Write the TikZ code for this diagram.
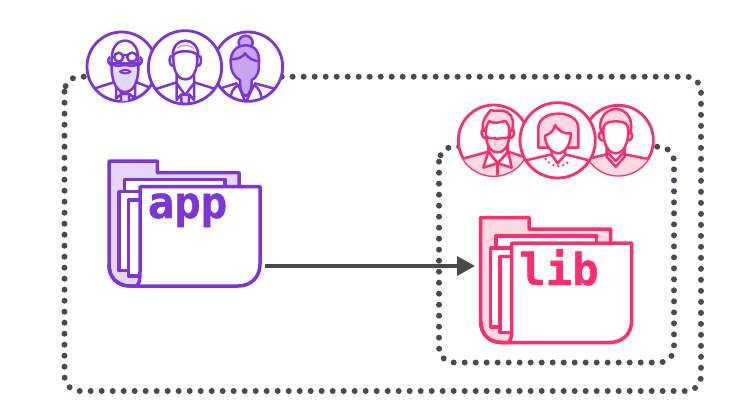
\documentclass[tikz,border=0pt]{standalone}
\usepackage{fontspec}
\newfontfamily\monob[FakeBold=1]{DejaVu Sans Mono Bold}
\usetikzlibrary{arrows.meta}
\definecolor{pur}{HTML}{7B35DB}
\definecolor{purl}{HTML}{E6D6F9}
\definecolor{purm}{HTML}{C7A6F0}
\definecolor{pnk}{HTML}{FF2D6E}
\definecolor{pnkl}{HTML}{FFD9E4}
\definecolor{dotc}{HTML}{4A4A55}
\definecolor{arr}{HTML}{4A4A4A}
\tikzset{
  dotbox/.style={draw=dotc,line width=6pt,line cap=round,dash pattern=on 0pt off 11pt,rounded corners=15pt},
  fline/.style={line width=3.5pt,line join=round},
  pline/.style={line width=2.5pt,line join=round,line cap=round},
  ring/.style={draw,fill=white,line width=2.8pt},
  lab/.style={font=\monob\fontsize{44}{44}\selectfont,anchor=base,inner sep=0pt},
  conn/.style={draw=arr,line width=3.6pt,-{Triangle[length=18pt,width=19pt]}},
}
\newcommand{\folderdraw}[2]{%
  \filldraw[fline,draw=#1,fill=#2] (109,161) -- (157.3,161) -- (157.3,172.7) -- (239,172.7) -- (239,200) -- (137,286) -- (130,286) .. controls (117,286) and (109,277) .. (109,265) -- cycle;
  \filldraw[fline,draw=#1,fill=white] (124.3,192) -- (124.3,179.3) -- (225,179.3) -- (225,192) -- cycle;
  \filldraw[fline,draw=#1,fill=white] (119,191.7) -- (142,191.7) -- (142,270.7) -- (119,270.7) -- cycle;
  \filldraw[fline,draw=#1,fill=white] (128.3,200) -- (142,200) -- (142,276) -- (128.3,276) -- cycle;
  \filldraw[fline,draw=#1,fill=white] (140,186.7) -- (260,186.7) -- (260,264) .. controls (260,277) and (251,286) .. (238,286) -- (136.7,286) .. controls (140,282) and (140,279) .. (140,272) -- cycle;
  \draw[fline,draw=#1] (109,265) .. controls (109,277) and (117,286) .. (130,286) -- (137,286);
}
\begin{document}
\begin{tikzpicture}[x=1pt,y=-1pt]
\useasboundingbox (0,0) rectangle (752,417);
\fill[white] (0,0) rectangle (752,417);
\draw[dotbox] (64.5,76.7) rectangle (701,391);
\draw[dotbox] (439,146.7) rectangle (674,362.5);

% purple people
\begin{scope}[shift={(80,20)},scale=1/3,pline,draw=pur]
 \begin{scope}
  \filldraw[ring,draw=pur] (125,140) circle (104);
  \clip (125,140) circle (104);
  \draw (45,205) -- (108,185) (165,185) -- (215,205);
  \filldraw[fill=white] (108,185) -- (125,222) -- (165,185);
  \filldraw[fill=purl] (122,222) -- (148,222) -- (146,250) -- (124,250) -- cycle;
  \draw (108,185) -- (108,235) -- (125,222) (165,185) -- (165,235) -- (148,222);
  \filldraw[fill=white] (95,130) .. controls (92,85) and (110,62) .. (135,62) .. controls (160,62) and (178,85) .. (175,130) -- cycle;
  \filldraw[fill=purl] (95,125) .. controls (92,190) and (112,216) .. (135,216) .. controls (158,216) and (178,190) .. (175,125) .. controls (170,145) and (150,135) .. (135,135) .. controls (120,135) and (100,145) .. (95,125) -- cycle;
  \draw (88,112) .. controls (80,125) and (88,135) .. (96,135) (182,112) .. controls (190,125) and (182,135) .. (174,135);
  \filldraw[fill=white,rounded corners=5] (102,98) rectangle (130,125);
  \filldraw[fill=white,rounded corners=5] (141,98) rectangle (172,125);
  \draw (130,105) -- (141,105);
  \draw[line width=2pt] (120,155) .. controls (130,148) and (142,148) .. (152,155) .. controls (142,162) and (130,162) .. (120,155);
 \end{scope}
 \begin{scope}
  \filldraw[ring,draw=pur] (504,140) circle (104);
  \clip (504,140) circle (104);
  \draw (412,208) -- (470,190) (525,190) -- (590,208);
  \draw (452,245) .. controls (450,220) and (458,205) .. (475,195) (545,245) .. controls (545,220) and (538,205) .. (522,195);
  \draw (475,195) -- (497,248) -- (522,195);
  \filldraw[fill=purm] (497,68) circle (21);
  \filldraw[fill=purm] (452,130) .. controls (450,95) and (470,76) .. (497,76) .. controls (524,76) and (540,95) .. (537,130) .. controls (538,150) and (535,170) .. (515,180) .. controls (515,205) and (510,225) .. (497,228) .. controls (484,225) and (480,205) .. (480,180) .. controls (460,170) and (452,150) .. (452,130) -- cycle;
  \draw (452,118) .. controls (475,118) and (490,110) .. (495,100) .. controls (505,115) and (520,122) .. (537,124);
 \end{scope}
 \begin{scope}
  \filldraw[ring,draw=pur] (315,142) circle (110);
  \clip (315,142) circle (110);
  \draw (225,208) -- (290,187) (342,187) -- (410,208);
  \filldraw[fill=white] (290,165) -- (290,190) -- (315,225) -- (342,190) -- (342,165);
  \filldraw[fill=purl] (303,224) -- (328,224) -- (326,252) -- (305,252) -- cycle;
  \draw (290,190) -- (290,240) -- (303,224) (342,190) -- (342,240) -- (328,224);
  \draw (272,108) .. controls (265,122) and (270,138) .. (280,138) (360,108) .. controls (367,122) and (362,138) .. (352,138);
  \filldraw[fill=white] (278,108) .. controls (278,78) and (295,62) .. (316,62) .. controls (337,62) and (355,78) .. (355,108) -- cycle;
  \filldraw[fill=white] (280,105) .. controls (292,90) and (340,90) .. (352,105) .. controls (354,150) and (340,178) .. (316,178) .. controls (292,178) and (278,150) .. (280,105) -- cycle;
  \draw[draw=purm,line width=1.6pt] (292,84) .. controls (305,74) and (327,74) .. (340,84);
 \end{scope}
\end{scope}

% pink people
\begin{scope}[shift={(450,95)},scale=1/3,pline,draw=pnk]
 \begin{scope}
  \filldraw[ring,draw=pnk] (131,136) circle (106);
  \clip (131,136) circle (106);
  \filldraw[fill=pnkl] (35,192) -- (115,170) -- (143,205) -- (175,170) -- (240,192) -- (240,260) -- (35,260) -- cycle;
  \filldraw[fill=white] (115,170) -- (100,218) -- (143,205) -- (185,218) -- (175,170) -- (143,205) -- cycle;
  \draw (143,205) -- (143,250);
  \draw (115,140) -- (115,170) (172,140) -- (172,170);
  \filldraw[fill=pnkl] (100,108) .. controls (92,75) and (112,60) .. (122,45) .. controls (135,52) and (155,40) .. (172,52) .. controls (190,62) and (192,85) .. (186,108) -- (178,108) .. controls (178,95) and (172,82) .. (165,78) .. controls (145,85) and (125,85) .. (118,78) .. controls (112,85) and (108,95) .. (108,108) -- cycle;
  \draw (108,105) -- (108,125) (178,105) -- (178,125);
  \filldraw[fill=pnkl] (108,122) .. controls (110,150) and (120,172) .. (143,172) .. controls (166,172) and (176,150) .. (178,122) .. controls (172,135) and (155,125) .. (143,132) .. controls (131,125) and (114,135) .. (108,122) -- cycle;
  \draw (100,100) .. controls (90,110) and (95,128) .. (106,130) (187,100) .. controls (197,110) and (192,128) .. (180,130);
 \end{scope}
 \begin{scope}
  \filldraw[ring,draw=pnk] (505,136) circle (105);
  \clip (505,136) circle (105);
  \filldraw[fill=pnkl] (400,195) -- (470,178) -- (497,205) -- (524,178) -- (610,195) -- (610,260) -- (400,260) -- cycle;
  \filldraw[fill=white] (470,150) -- (470,185) -- (497,215) -- (524,185) -- (524,150);
  \draw (470,170) -- (497,198) -- (524,170);
  \filldraw[fill=pnkl] (455,115) .. controls (440,70) and (470,42) .. (497,42) .. controls (525,42) and (555,70) .. (540,115) -- (530,115) -- (525,90) -- (470,90) -- (463,115) -- cycle;
  \filldraw[fill=white] (460,105) .. controls (460,95) and (465,85) .. (475,82) .. controls (490,78) and (505,78) .. (520,82) .. controls (530,85) and (535,95) .. (535,105) .. controls (536,145) and (520,175) .. (497,175) .. controls (474,175) and (459,145) .. (460,105) -- cycle;
  \draw (450,112) .. controls (443,122) and (448,135) .. (458,137) (543,112) .. controls (550,122) and (545,135) .. (536,137);
 \end{scope}
 \begin{scope}
  \filldraw[ring,draw=pnk] (323,136) circle (113);
  \clip (323,136) circle (113);
  \draw (220,198) -- (305,178) (345,178) -- (425,198);
  \filldraw[fill=pnkl] (265,158) -- (265,100) .. controls (265,70) and (295,56) .. (325,56) .. controls (355,56) and (385,70) .. (385,100) -- (385,158) -- cycle;
  \filldraw[fill=white] (305,160) -- (305,180) -- (323,205) -- (345,180) -- (345,160) -- cycle;
  \filldraw[fill=white] (285,122) .. controls (305,115) and (312,105) .. (315,90) .. controls (322,105) and (340,118) .. (362,115) .. controls (364,145) and (345,175) .. (325,175) .. controls (305,175) and (285,150) .. (285,122) -- cycle;
  \draw[line width=2.6pt,dash pattern=on 0pt off 5pt] (287,192) .. controls (300,215) and (345,225) .. (360,192);
 \end{scope}
\end{scope}

% folders
\folderdraw{pur}{purl}
\begin{scope}[shift={(371.7,56.5)}]
\folderdraw{pnk}{pnkl}
\end{scope}
\node[lab,text=pur] (applabel) at (187.5,218) {app};
\node[lab,text=pnk] (liblabel) at (559,285) {lib};
\coordinate (appout) at (265,266);
\coordinate (libin) at (475,266);
\draw[conn] (appout) -- (libin);
\end{tikzpicture}
\end{document}
